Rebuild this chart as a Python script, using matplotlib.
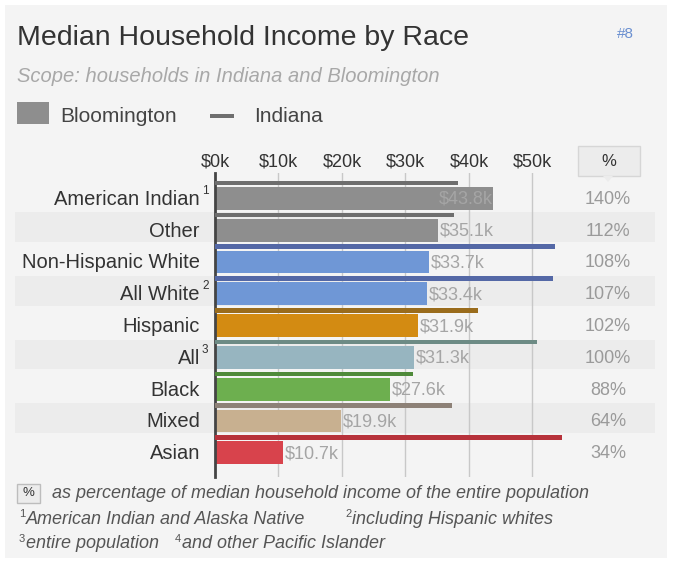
import matplotlib
matplotlib.use("Agg")
import matplotlib.pyplot as plt
from matplotlib.patches import Rectangle, Polygon

# Data
categories = ["American Indian", "Other", "Non-Hispanic White", "All White",
              "Hispanic", "All", "Black", "Mixed", "Asian"]
superscripts = ["1", "", "", "2", "", "3", "", "", ""]
bloomington = [43.8, 35.1, 33.7, 33.4, 31.9, 31.3, 27.6, 19.9, 10.7]
indiana = [38.3, 37.6, 53.5, 53.2, 41.4, 50.7, 31.2, 37.3, 54.6]
percents = ["140%", "112%", "108%", "107%", "102%", "100%", "88%", "64%", "34%"]
ticks = [0, 10, 20, 30, 40, 50]
tick_labels = ["$0k", "$10k", "$20k", "$30k", "$40k", "$50k"]

bar_colors = ["#8e8e8e", "#8e8e8e", "#6f97d6", "#6f97d6", "#d38b12",
              "#97b5c0", "#6daf4f", "#c8b090", "#d8434c"]
line_colors = ["#6e6e6e", "#6e6e6e", "#5468a6", "#5468a6", "#9a6c1c",
               "#6d8b85", "#4f8a3a", "#8d8177", "#b7323b"]

W, H = 673, 561
fig = plt.figure(figsize=(W / 100, H / 100), dpi=100, facecolor="white")
plt.rcParams["font.family"] = ["Liberation Sans", "DejaVu Sans"]

def fx(px):
    return px / W

def fy(py):
    return 1 - py / H

# panel background
fig.patches.append(Rectangle((fx(5), fy(558)), fx(662), (553) / H,
                             transform=fig.transFigure, facecolor="#f4f4f4",
                             edgecolor="none", zorder=-10))

# chart axes, x: 6.35 px per $1k starting at px 215; rows 31.8 px apart
x0_px, ppk = 215, 6.35
row0_py, pitch = 195.5, 31.8
top_py, bot_py = 173, 477
x_max = 56
ax = fig.add_axes([fx(x0_px), fy(bot_py), ppk * x_max / W, (bot_py - top_py) / H])
ax.set_xlim(0, x_max)
ax.set_ylim((bot_py - row0_py) / pitch, (top_py - row0_py) / pitch)
ax.patch.set_visible(False)
for s in ["top", "right", "bottom"]:
    ax.spines[s].set_visible(False)
ax.spines["left"].set_color("#444444")
ax.spines["left"].set_linewidth(2)
ax.set_xticks([])
ax.set_yticks([])

def dx(px):
    return (px - x0_px) / ppk

# alternating row stripes
for i in range(len(categories)):
    if i % 2 == 1:
        ax.add_patch(Rectangle((dx(15), i - 0.47), dx(655) - dx(15), 0.94,
                               facecolor="#ececec", edgecolor="none",
                               clip_on=False, zorder=0))

# gridlines
for t in ticks[1:]:
    ax.axvline(t, color="#c8c8c8", lw=1, zorder=1)

# bars
ys = list(range(len(categories)))
ax.barh([y + 0.09 for y in ys], bloomington, height=0.72, color=bar_colors,
        zorder=2)
ax.barh([y - 0.39 for y in ys], indiana, height=0.14, color=line_colors,
        zorder=3)

# value labels
for y, v in zip(ys, bloomington):
    if v > 40:
        ax.text(v, y + 0.12, f"${v}k", ha="right", va="center", fontsize=13,
                color="#a5a5a5", zorder=4)
    else:
        ax.text(v + 0.3, y + 0.12, f"${v}k", ha="left", va="center",
                fontsize=13, color="#a5a5a5", zorder=4)

# category labels
for y, name, sup in zip(ys, categories, superscripts):
    ax.text(dx(200), y + 0.12, name, ha="right", va="center", fontsize=14.5,
            color="#333333", clip_on=False)
    if sup:
        ax.text(dx(202), y - 0.14, sup, ha="left", va="center", fontsize=8.5,
                color="#333333", clip_on=False)

# percent column
for y, p in zip(ys, percents):
    ax.text(dx(608), y + 0.12, p, ha="center", va="center", fontsize=13,
            color="#9a9a9a", clip_on=False)

# tick labels on top
for t, lab in zip(ticks, tick_labels):
    fig.text(fx(x0_px + t * ppk), fy(162), lab, ha="center", va="center",
             fontsize=13, color="#333333")

# % header box
fig.patches.append(Rectangle((fx(578), fy(176)), fx(62), 30 / H,
                             transform=fig.transFigure, facecolor="#ececec",
                             edgecolor="#d6d6d6", lw=1, zorder=1))
fig.patches.append(Polygon([(fx(603), fy(176)), (fx(613), fy(176)),
                            (fx(608), fy(182))], closed=True,
                           transform=fig.transFigure, facecolor="#ececec",
                           edgecolor="none", zorder=1))
fig.text(fx(609), fy(161), "%", ha="center", va="center", fontsize=12,
         color="#333333")

# title, subtitle, legend
fig.text(fx(17), fy(38), "Median Household Income by Race", ha="left",
         va="center", fontsize=20.5, color="#333333")
fig.text(fx(625), fy(34), "#8", ha="center", va="center", fontsize=11,
         color="#6a8fd0")
fig.text(fx(17), fy(77), "Scope: households in Indiana and Bloomington",
         ha="left", va="center", fontsize=14.5, style="italic", color="#a8a8a8")
fig.patches.append(Rectangle((fx(17), fy(124)), fx(32), 22 / H,
                             transform=fig.transFigure, facecolor="#8e8e8e",
                             edgecolor="none", zorder=1))
fig.text(fx(60), fy(116), "Bloomington", ha="left", va="center", fontsize=15,
         color="#444444")
fig.patches.append(Rectangle((fx(210), fy(118)), fx(24), 4 / H,
                             transform=fig.transFigure, facecolor="#6e6e6e",
                             edgecolor="none", zorder=1))
fig.text(fx(254), fy(116), "Indiana", ha="left", va="center", fontsize=15,
         color="#444444")

# footer notes
fig.patches.append(Rectangle((fx(17), fy(503)), fx(23), 19 / H,
                             transform=fig.transFigure, facecolor="#ececec",
                             edgecolor="#bdbdbd", lw=1, zorder=1))
fig.text(fx(28.5), fy(493), "%", ha="center", va="center", fontsize=9.5,
         color="#333333")
fig.text(fx(52), fy(494),
         "as percentage of median household income of the entire population",
         ha="left", va="center", fontsize=13, style="italic", color="#555555")
notes = [(19, 519, "1", "American Indian and Alaska Native"),
         (345, 519, "2", "including Hispanic whites"),
         (19, 544, "3", "entire population"),
         (175, 544, "4", "and other Pacific Islander")]
for px, py, sup, txt in notes:
    fig.text(fx(px), fy(py - 5), sup, ha="left", va="center", fontsize=8,
             color="#555555")
    fig.text(fx(px + 7), fy(py), txt, ha="left", va="center", fontsize=13,
             style="italic", color="#555555")

fig.savefig("out.png", dpi=100, facecolor="white")
